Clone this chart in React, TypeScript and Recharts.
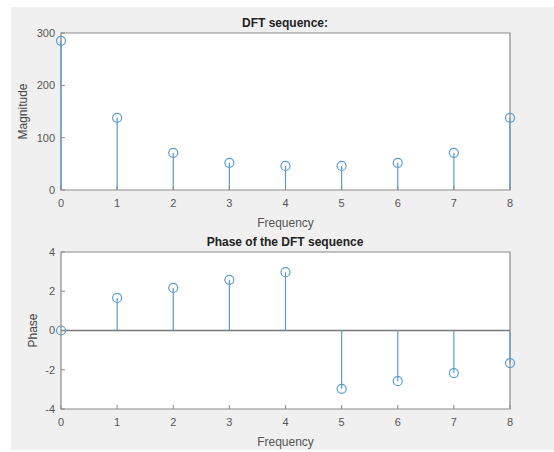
import React from 'react';
import { ComposedChart, Scatter, XAxis, YAxis, ReferenceLine, ReferenceArea } from 'recharts';

const frequencies = [0, 1, 2, 3, 4, 5, 6, 7, 8];
const magnitude = [285, 138, 71, 52, 46, 46, 52, 71, 138];
const phase = [0, 1.66, 2.17, 2.58, 2.97, -2.97, -2.58, -2.17, -1.66];

const magTicks = [0, 100, 200, 300];
const phaseTicks = [-4, -2, 0, 2, 4];

const STEM = '#5a9bd0';
const AXIS = '#8a8a8a';
const FONT = 'Liberation Sans, Arial, sans-serif';

const magData = frequencies.map((f, i) => ({ f, v: magnitude[i] }));
const phaseData = frequencies.map((f, i) => ({ f, v: phase[i] }));

const OpenCircle = (props: any) => {
  const { cx, cy } = props;
  if (cx == null || cy == null) return null;
  return <circle cx={cx} cy={cy} r={4.5} fill="none" stroke={STEM} strokeWidth={1.2} />;
};

const tickStyle = { fill: '#555', fontSize: 11, fontFamily: FONT };

interface StemProps {
  data: { f: number; v: number }[];
  domain: [number, number];
  yTicks: number[];
  title: string;
  yLabel: string;
  labelOffset: number;
  baseline: boolean;
}

const StemPlot: React.FC<StemProps> = ({ data, domain, yTicks, title, yLabel, labelOffset, baseline }) => (
  <ComposedChart width={554} height={233} margin={{ top: 32, right: 43, left: 21, bottom: 13 }} data={data}>
    <XAxis
      xAxisId="b"
      dataKey="f"
      type="number"
      domain={[0, 8]}
      ticks={frequencies}
      height={30}
      axisLine={false}
      tickSize={-4}
      tickMargin={13}
      tickLine={{ stroke: AXIS }}
      tick={tickStyle}
      label={{ value: 'Frequency', position: 'insideBottom', offset: -7, fill: '#555', fontSize: 12, fontFamily: FONT }}
    />
    <XAxis
      xAxisId="t"
      orientation="top"
      dataKey="f"
      type="number"
      domain={[0, 8]}
      ticks={frequencies}
      height={1}
      axisLine={false}
      tickSize={-4}
      tick={false}
      tickLine={{ stroke: AXIS }}
    />
    <YAxis
      yAxisId="l"
      type="number"
      domain={domain}
      ticks={yTicks}
      width={40}
      axisLine={false}
      tickSize={-4}
      tickMargin={10}
      tickLine={{ stroke: AXIS }}
      tick={tickStyle}
      label={{ value: yLabel, angle: -90, position: 'insideLeft', offset: labelOffset, fill: '#444', fontSize: 12, fontFamily: FONT, style: { textAnchor: 'middle' } }}
    />
    <YAxis
      yAxisId="r"
      orientation="right"
      type="number"
      domain={domain}
      ticks={yTicks}
      width={1}
      axisLine={false}
      tickSize={-4}
      tick={false}
      tickLine={{ stroke: AXIS }}
    />
    <ReferenceArea xAxisId="b" yAxisId="l" x1={0} x2={8} y1={domain[0]} y2={domain[1]} fill="#ffffff" fillOpacity={1} stroke={AXIS} strokeWidth={1.2} />
    {baseline && <ReferenceLine xAxisId="b" yAxisId="l" y={0} stroke="#777" strokeWidth={1.5} />}
    {data.map((d) => (
      <ReferenceLine
        key={d.f}
        xAxisId="b"
        yAxisId="l"
        segment={[{ x: d.f, y: 0 }, { x: d.f, y: d.v }]}
        stroke={STEM}
        strokeWidth={1.2}
        ifOverflow="visible"
      />
    ))}
    <Scatter xAxisId="b" yAxisId="l" dataKey="v" shape={<OpenCircle />} isAnimationActive={false} />
    <text x={285} y={27} textAnchor="middle" fontFamily={FONT} fontSize={12} fontWeight="bold" fill="#222">
      {title}
    </text>
  </ComposedChart>
);

export default function App() {
  return (
    <div style={{ position: 'absolute', left: 0, top: 0, width: 554, height: 452, background: '#fff', overflow: 'hidden' }}>
      <div style={{ position: 'absolute', left: 11, top: 7, right: 0, bottom: 2, background: '#f0f0f0' }} />
      <div style={{ position: 'absolute', left: 0, top: 0 }}>
        <StemPlot data={magData} domain={[0, 300]} yTicks={magTicks} title="DFT sequence:" yLabel="Magnitude" labelOffset={2} baseline={false} />
      </div>
      <div style={{ position: 'absolute', left: 0, top: 219 }}>
        <StemPlot data={phaseData} domain={[-4, 4]} yTicks={phaseTicks} title="Phase of the DFT sequence" yLabel="Phase" labelOffset={12} baseline={true} />
      </div>
    </div>
  );
}
